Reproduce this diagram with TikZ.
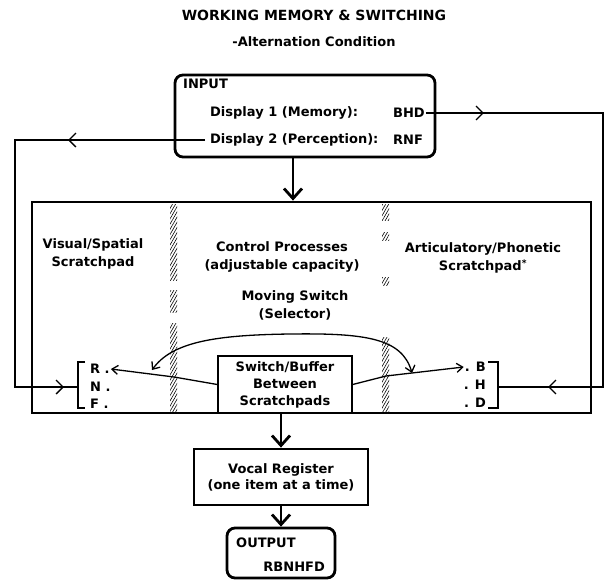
\documentclass[tikz,border=0pt]{standalone}
\usepackage{fontspec}
\setmainfont{DejaVu Sans}
\usetikzlibrary{arrows.meta, patterns.meta, decorations.markings}

\begin{document}
\begin{tikzpicture}[
    x=1pt, y=-1pt,
    font=\bfseries\fontsize{13}{18}\selectfont,
    box/.style={draw=black, line width=2.8pt, rounded corners=8pt},
    panel/.style={draw=black, line width=2.8pt},
    buffer/.style={draw=black, line width=1.4pt, align=center,
                   font=\bfseries\fontsize{13}{17}\selectfont},
    txt/.style={align=center, inner sep=1pt},
    ltr/.style={inner sep=1pt},
    link/.style={draw=black, line width=1.3pt},
    flow/.style={draw=black, line width=2.8pt, -{Straight Barb[length=10pt,width=18pt]}},
    tip/.style={-{Straight Barb[length=6pt,width=9pt]}},
    hatch/.style={pattern={Lines[angle=60,distance=2.6pt,line width=0.6pt]}},
    midtips/.style 2 args={postaction={decorate, decoration={markings,
        mark=at position #1 with {\arrow{Straight Barb[length=7pt,width=14pt]}},
        mark=at position #2 with {\arrow{Straight Barb[length=7pt,width=14pt]}}}}},
  ]
  \useasboundingbox (0,0) rectangle (605,581);
  % heading
  \node[font=\bfseries\fontsize{14}{17}\selectfont] (title) at (314,15) {WORKING MEMORY \& SWITCHING};
  \node (sub) at (314,42) {-Alternation Condition};
  % input
  \node[box, minimum width=260pt, minimum height=82pt] (inp) at (305,116) {};
  \node[ltr, anchor=west] (inlbl) at (182,84) {INPUT};
  \node[ltr, anchor=west] (d1) at (209,113) {Display 1 (Memory):};
  \node[ltr, anchor=west] (bhd) at (392,113) {BHD};
  \node[ltr, anchor=west] (d2) at (209,140) {Display 2 (Perception):};
  \node[ltr, anchor=west] (rnf) at (392,140) {RNF};
  % working memory
  \node[panel, minimum width=559pt, minimum height=211pt] (wm) at (311.5,307.5) {};
  \foreach \a/\b in {204/280, 290/312, 323/412}
    \fill[hatch] (170,\a) rectangle (177,\b);
  \foreach \a/\b in {204/220, 232/240, 277/285, 337/412}
    \fill[hatch] (382,\a) rectangle (389,\b);
  \node[txt] (vis) at (93,254) {Visual/Spatial\\Scratchpad};
  \node[txt] (ctl) at (282,257) {Control Processes\\(adjustable capacity)};
  \node[txt] (art) at (483,258) {Articulatory/Phonetic\\Scratchpad\textsuperscript{*}};
  \node[txt] (mov) at (295,305) {Moving Switch\\(Selector)};
  \node[buffer, minimum width=134pt, minimum height=57pt] (sw) at (285,384.5)
    {Switch/Buffer\\Between\\Scratchpads};
  % scratchpad items
  \node[ltr, anchor=west] (lR) at (89,369) {R .};
  \node[ltr, anchor=west] (lN) at (89,387) {N .};
  \node[ltr, anchor=west] (lF) at (89,404) {F .};
  \node[ltr, anchor=east] (rB) at (487,367) {. B};
  \node[ltr, anchor=east] (rH) at (487,385) {. H};
  \node[ltr, anchor=east] (rD) at (487,403) {. D};
  \draw[link] (85,362) -| (78,408) -- (85,408);
  \draw[link] (488,362) -| (498,408) -- (488,408);
  \coordinate (brL) at (78,387);
  \coordinate (brR) at (498,387);
  % switch
  \draw[link, tip] (sw.west) -- (174,377) -- (lR.east);
  \draw[link, tip] (sw.east) -- (386,376) -- (rB.west);
  \coordinate (selL) at (152,370);
  \coordinate (selR) at (412,373);
  \draw[link, {Straight Barb[length=6pt,width=10pt]}-{Straight Barb[length=6pt,width=10pt]}]
    (selL) .. controls (172,342) and (215,335) .. (290,334)
    .. controls (365,333) and (402,338) .. (selR);
  % feedback
  \draw[link, midtips={137pt}{486pt}] ([xshift=-4pt]d2.west) -- (15,140) |- (brL);
  \draw[link, midtips={58pt}{506pt}] (bhd.east) -- (603,113) |- (brR);
  % output
  \node[panel, align=center, minimum width=174pt, minimum height=56pt,
        font=\bfseries\fontsize{13}{16}\selectfont] (voc) at (281,477)
    {Vocal Register\\(one item at a time)};
  \node[box, minimum width=108pt, minimum height=50pt] (out) at (281,553) {};
  \node[ltr, anchor=west] (outlbl) at (235,543) {OUTPUT};
  \node[ltr, anchor=east] (seq) at (326,567) {RBNHFD};
  \coordinate (inBot) at (293,157);
  \draw[flow] (inBot) -- (inBot |- wm.north);
  \draw[flow] (voc.north |- wm.south) -- (voc.north);
  \draw[flow] (voc.south) -- (out.north);
\end{tikzpicture}
\end{document}
